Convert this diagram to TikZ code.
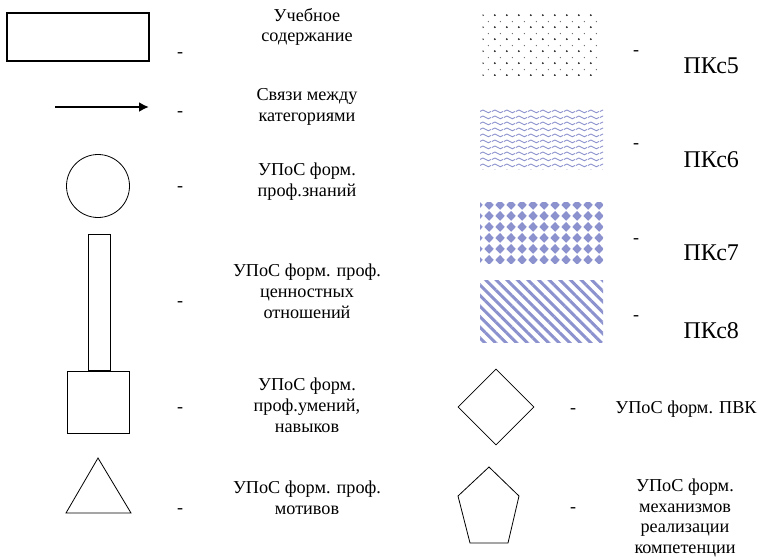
\documentclass[tikz,border=0pt]{standalone}
\usepackage{fontspec}
\setmainfont{LiberationSerif}[Extension=.ttf, UprightFont=*-Regular,
  BoldFont=*-Bold, ItalicFont=*-Italic, BoldItalicFont=*-BoldItalic]
\usepackage{tikz}
\usetikzlibrary{shapes, arrows.meta, patterns.meta}

\definecolor{patblue}{RGB}{140,146,206}

% fill patterns for the competence boxes
\tikzdeclarepattern{name=dotgrid, type=colored,
  bounding box={(0pt,0pt) and (12pt,12pt)}, tile size={(12pt,12pt)},
  code={\fill[black!85] (3pt,3pt) circle (1.1pt);
        \fill[black!55] (9pt,9pt) circle (0.75pt);}}
\tikzdeclarepattern{name=wavelines, type=uncolored,
  bounding box={(0pt,0pt) and (12pt,6pt)}, tile size={(12pt,6pt)},
  code={\draw[line width=1pt] (0pt,3pt) sin (3pt,4.6pt) cos (6pt,3pt)
        sin (9pt,1.4pt) cos (12pt,3pt);}}
\tikzdeclarepattern{name=diamondgrid, type=uncolored,
  bounding box={(0pt,0pt) and (11pt,10.5pt)}, tile size={(11pt,10.5pt)},
  code={\fill (5.5pt,0.2pt) -- (10.6pt,5.25pt) -- (5.5pt,10.3pt)
        -- (0.4pt,5.25pt) -- cycle;}}

\tikzstyle{caption} = [text centered, align=center,
    font=\fontsize{18.2}{20.8}\selectfont]
\tikzstyle{dashmark} = [inner sep=0pt, font=\fontsize{18}{20.5}\selectfont]
\tikzstyle{pkslabel} = [anchor=west, font=\fontsize{24}{28}\selectfont]
\tikzstyle{outline} = [draw, line width=0.8pt, inner sep=0pt]
\tikzstyle{patbox} = [rectangle, inner sep=0pt, pattern color=patblue]
\tikzstyle{line} = [draw, line width=2.4pt, -{Latex[length=10pt,width=10pt]}]

\begin{document}
\begin{tikzpicture}[x=1pt, y=-1pt]
    \useasboundingbox (0,0) rectangle (763,558);
    % Left column: shapes
    \node [outline, rectangle, line width=2.4pt, minimum width=142, minimum height=48] (content) at (78,37) {};
    \coordinate (linkstart) at (55,107);
    \coordinate (linkend) at (149,107);
    \node [outline, circle, minimum size=63] (knowledge) at (98,186) {};
    \node [outline, rectangle, minimum width=22, minimum height=136] (values) at (99,302) {};
    \node [outline, rectangle, minimum width=62, minimum height=62] (skills) at (98,402) {};
    \draw [line width=0.8pt, line join=miter] (98,458) -- (131,513) -- (66,513) -- cycle;
    % Left column: dashes and captions
    \node [dashmark] (d1) at (180,55) {-};
    \node [dashmark] (d2) at (180,114) {-};
    \node [dashmark] (d3) at (180,189) {-};
    \node [dashmark] (d4) at (180,304) {-};
    \node [dashmark] (d5) at (180,410) {-};
    \node [dashmark] (d6) at (180,511) {-};
    \node [caption] (t1) at (307,27) {Учебное\\содержание};
    \node [caption] (t2) at (307,107) {Связи между\\категориями};
    \node [caption] (t3) at (307,182) {УПоС форм.\\проф.знаний};
    \node [caption] (t4) at (307,291) {УПоС форм. проф.\\ценностных\\отношений};
    \node [caption] (t5) at (307,405) {УПоС форм.\\проф.умений,\\навыков};
    \node [caption] (t6) at (307,498) {УПоС форм. проф.\\мотивов};
    % Right column: patterned boxes
    \node [patbox, pattern=dotgrid, minimum width=117, minimum height=62] (pks5) at (541,44) {};
    \node [patbox, pattern=wavelines, minimum width=123, minimum height=61] (pks6) at (541.5,138.5) {};
    \node [patbox, pattern=diamondgrid, minimum width=123, minimum height=61] (pks7) at (541.5,232.5) {};
    \node [patbox, pattern={Lines[angle=-45, distance=7.5pt, line width=3pt]}, minimum width=123, minimum height=62] (pks8) at (541.5,311) {};
    \node [dashmark] (d7) at (636,53) {-};
    \node [dashmark] (d8) at (636,146) {-};
    \node [dashmark] (d9) at (636,241) {-};
    \node [dashmark] (d10) at (636,318) {-};
    \node [pkslabel] (c5) at (680,66) {ПКс5};
    \node [pkslabel] (c6) at (680,160) {ПКс6};
    \node [pkslabel] (c7) at (680,253) {ПКс7};
    \node [pkslabel] (c8) at (680,331) {ПКс8};
    % Right column: diamond and pentagon
    \node [outline, diamond, aspect=1, minimum width=76, minimum height=76] (pvk) at (496,407) {};
    \draw [line width=0.8pt] (489,467) -- (519,496) -- (508,543) -- (470,543) -- (458,496) -- cycle;
    \node [dashmark] (d11) at (573,411) {-};
    \node [dashmark] (d12) at (573,510) {-};
    \node [caption] (t7) at (686,409) {УПоС форм. ПВК};
    \node [caption] (t8) at (685,518) {УПоС форм.\\механизмов\\реализации\\компетенции};
    % Edges
    \path [line] (linkstart) -- (linkend);
\end{tikzpicture}
\end{document}
